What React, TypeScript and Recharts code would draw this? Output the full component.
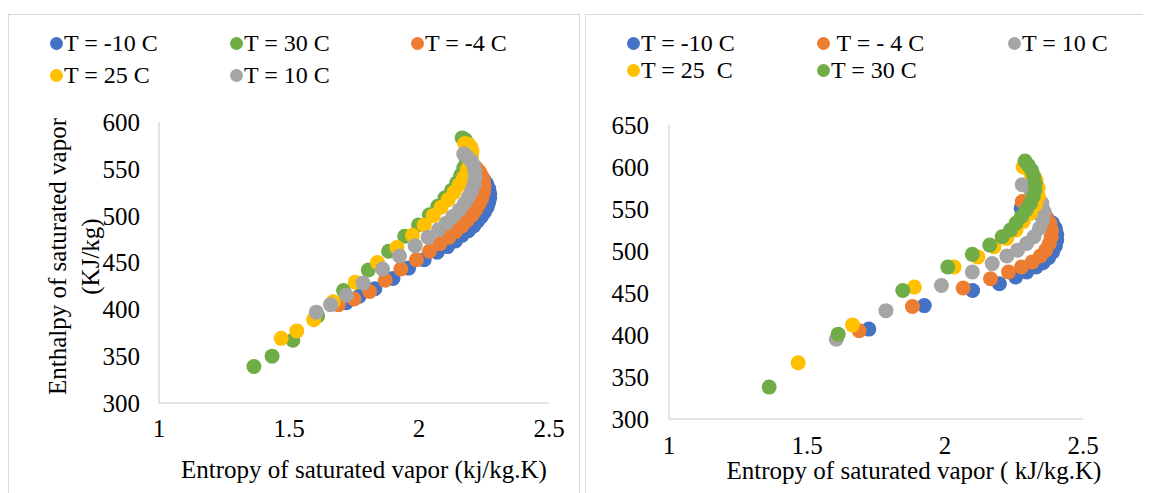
import { ScatterChart, Scatter, XAxis, YAxis } from "recharts";

const SERIF = "Liberation Serif, serif";
const AXIS_GREY = "#d9d9d9";
const INK = "#000000";

const BLUE = "#4472C4";
const ORANGE = "#ED7D31";
const GREY = "#A5A5A5";
const GOLD = "#FFC000";
const GREEN = "#70AD47";

const entropyTicks = [1, 1.5, 2, 2.5];
const leftEnthalpyTicks = [300, 350, 400, 450, 500, 550, 600];
const rightEnthalpyTicks = [300, 350, 400, 450, 500, 550, 600, 650];

// left panel: saturated vapour, kJ/kg.K vs kJ/kg
const leftM10S = [1.72, 1.77, 1.83, 1.9, 1.96, 2.02, 2.07, 2.11, 2.14, 2.165, 2.19, 2.21, 2.225, 2.24, 2.252, 2.262, 2.268, 2.272, 2.272, 2.268, 2.26, 2.25];
const leftM10H = [407, 414, 422, 433, 444, 453, 461, 467, 473, 479, 484, 489, 494, 499, 504, 509, 514, 519, 524, 529, 534, 538];

const left30S = [1.365, 1.435, 1.515, 1.61, 1.71, 1.805, 1.883, 1.945, 1.998, 2.04, 2.072, 2.1, 2.125, 2.145, 2.16, 2.172, 2.182, 2.188, 2.19, 2.186, 2.178, 2.166];
const left30H = [339, 350, 367, 393, 420, 442, 462, 478, 490, 501, 510, 519, 527, 535, 543, 551, 559, 566, 572, 577, 581, 583];

const leftM4S = [1.69, 1.75, 1.81, 1.87, 1.93, 1.99, 2.04, 2.08, 2.115, 2.14, 2.165, 2.185, 2.205, 2.22, 2.232, 2.242, 2.248, 2.25, 2.248, 2.242, 2.232, 2.22];
const leftM4H = [405, 411, 419, 431, 443, 453, 462, 470, 477, 483, 489, 495, 501, 507, 513, 519, 525, 531, 537, 542, 547, 551];

const left25S = [1.47, 1.53, 1.595, 1.67, 1.755, 1.84, 1.915, 1.975, 2.02, 2.055, 2.085, 2.112, 2.135, 2.155, 2.172, 2.186, 2.196, 2.202, 2.204, 2.2, 2.19, 2.176];
const left25H = [369, 377, 389, 408, 429, 450, 466, 479, 490, 500, 509, 517, 525, 533, 541, 549, 556, 563, 569, 573, 576, 577];

const left10S = [1.605, 1.66, 1.72, 1.785, 1.86, 1.925, 1.985, 2.035, 2.075, 2.105, 2.13, 2.155, 2.175, 2.19, 2.203, 2.212, 2.216, 2.215, 2.21, 2.2, 2.185, 2.172];
const left10H = [397, 405, 415, 428, 443, 457, 468, 477, 485, 492, 499, 506, 513, 520, 527, 534, 541, 548, 554, 559, 563, 566];

// right panel
const rightM10S = [1.724, 1.925, 2.1, 2.197, 2.256, 2.296, 2.33, 2.355, 2.375, 2.39, 2.4, 2.405, 2.405, 2.4, 2.39, 2.37, 2.345, 2.31, 2.276];
const rightM10H = [407, 435, 453, 461, 469, 475, 481, 486, 492, 499, 506, 513, 520, 527, 533, 539, 544, 548, 551];

const rightM4S = [1.689, 1.882, 2.066, 2.165, 2.23, 2.277, 2.316, 2.345, 2.365, 2.378, 2.385, 2.386, 2.38, 2.365, 2.345, 2.315, 2.28];
const rightM4H = [405, 434, 456, 467, 475, 481, 487, 494, 501, 509, 517, 525, 533, 541, 548, 554, 559];

const right10S = [1.606, 1.786, 1.987, 2.099, 2.171, 2.224, 2.263, 2.296, 2.322, 2.342, 2.355, 2.359, 2.351, 2.333, 2.31, 2.28];
const right10H = [395, 429, 459, 475, 485, 494, 501, 509, 517, 527, 537, 547, 557, 566, 573, 579];

const right25S = [1.468, 1.665, 1.889, 2.033, 2.119, 2.178, 2.224, 2.257, 2.283, 2.31, 2.328, 2.338, 2.338, 2.33, 2.31, 2.283];
const right25H = [367, 412, 457, 481, 493, 505, 515, 525, 535, 545, 555, 565, 575, 584, 593, 600];

const right30S = [1.363, 1.613, 1.847, 2.01, 2.099, 2.162, 2.207, 2.237, 2.257, 2.277, 2.294, 2.31, 2.32, 2.326, 2.327, 2.322, 2.314, 2.302, 2.29];
const right30H = [338, 401, 453, 481, 496, 507, 517, 525, 533, 541, 549, 557, 565, 573, 581, 589, 596, 602, 607];

type Point = { s: number; h: number };
type Series = { name: string; color: string; data: Point[] };

const zip = (s: number[], h: number[]): Point[] => s.map((v, i) => ({ s: v, h: h[i] }));

const leftSeries: Series[] = [
  { name: "T = -10 C", color: BLUE, data: zip(leftM10S, leftM10H) },
  { name: "T = 30 C", color: GREEN, data: zip(left30S, left30H) },
  { name: "T = -4 C", color: ORANGE, data: zip(leftM4S, leftM4H) },
  { name: "T = 25 C", color: GOLD, data: zip(left25S, left25H) },
  { name: "T = 10 C", color: GREY, data: zip(left10S, left10H) }
];

const rightSeries: Series[] = [
  { name: "T = -10 C", color: BLUE, data: zip(rightM10S, rightM10H) },
  { name: " T = - 4 C", color: ORANGE, data: zip(rightM4S, rightM4H) },
  { name: "T = 10 C", color: GREY, data: zip(right10S, right10H) },
  { name: "T = 25  C", color: GOLD, data: zip(right25S, right25H) },
  { name: "T = 30 C", color: GREEN, data: zip(right30S, right30H) }
];

const dot = (color: string) => (props: any) =>
  props.cx == null ? <g /> : <circle cx={props.cx} cy={props.cy} r={7.5} fill={color} />;

type LegendProps = {
  series: Series[];
  cols: number[];
  rows: number[];
};

function LegendGrid({ series, cols, rows }: LegendProps) {
  return (
    <>
      {series.map((item, i) => (
        <div
          key={item.name}
          style={{
            position: "absolute",
            left: cols[i % 3],
            top: rows[Math.floor(i / 3)] - 15,
            height: 30,
            display: "flex",
            alignItems: "center",
            fontFamily: SERIF,
            fontSize: 24,
            color: INK,
            whiteSpace: "pre"
          }}
        >
          <span
            style={{ width: 13, height: 13, borderRadius: "50%", background: item.color, marginRight: 1 }}
          />
          {item.name}
        </div>
      ))}
    </>
  );
}

const tickStyle = { fontSize: 25, fill: INK, fontFamily: SERIF };

export default function App() {
  return (
    <div style={{ position: "relative", width: 1143, height: 485, overflow: "hidden" }}>
      {/* left panel */}
      <div
        style={{
          position: "absolute",
          left: 0,
          top: 6,
          width: 570,
          height: 479,
          borderTop: `1px solid ${AXIS_GREY}`,
          borderLeft: `1px solid ${AXIS_GREY}`,
          borderRight: `1px solid ${AXIS_GREY}`
        }}
      >
        <ScatterChart width={569} height={478} margin={{ top: 107, right: 29, bottom: 10, left: 20 }}>
          <XAxis
            type="number"
            dataKey="s"
            domain={[1, 2.5]}
            ticks={entropyTicks}
            tickLine={false}
            tickSize={0}
            tickMargin={16}
            height={80}
            axisLine={{ stroke: AXIS_GREY, strokeWidth: 1.5 }}
            tick={tickStyle}
            label={{
              content: ({ viewBox }: any) => (
                <text
                  x={viewBox.x + viewBox.width / 2 + 10}
                  y={viewBox.y + 66}
                  textAnchor="middle"
                  dominantBaseline="central"
                  fontFamily={SERIF}
                  fontSize={25}
                  fill={INK}
                >
                  Entropy of saturated vapor (kj/kg.K)
                </text>
              )
            }}
          />
          <YAxis
            type="number"
            dataKey="h"
            domain={[300, 600]}
            ticks={leftEnthalpyTicks}
            tickLine={false}
            tickSize={0}
            tickMargin={19}
            width={130}
            axisLine={{ stroke: AXIS_GREY, strokeWidth: 1.5 }}
            tick={tickStyle}
            label={{
              content: ({ viewBox }: any) => {
                const cy = viewBox.y + viewBox.height / 2 - 6;
                return (
                  <g fontFamily={SERIF} fontSize={25} fill={INK}>
                    <text
                      x={viewBox.x + 28}
                      y={cy}
                      transform={`rotate(-90 ${viewBox.x + 28} ${cy})`}
                      textAnchor="middle"
                      dominantBaseline="central"
                    >
                      Enthalpy of saturated vapor
                    </text>
                    <text
                      x={viewBox.x + 61}
                      y={cy}
                      transform={`rotate(-90 ${viewBox.x + 61} ${cy})`}
                      textAnchor="middle"
                      dominantBaseline="central"
                    >
                      (KJ/kg)
                    </text>
                  </g>
                );
              }
            }}
          />
          {leftSeries.map((sr) => (
            <Scatter
              key={sr.name}
              name={sr.name}
              data={sr.data}
              fill={sr.color}
              shape={dot(sr.color)}
              isAnimationActive={false}
            />
          ))}
        </ScatterChart>
        <LegendGrid series={leftSeries} cols={[41, 221, 402]} rows={[28, 60]} />
      </div>

      {/* right panel */}
      <div
        style={{
          position: "absolute",
          left: 577,
          top: 6,
          width: 566,
          height: 479,
          borderTop: `1px solid ${AXIS_GREY}`,
          borderLeft: `1px solid ${AXIS_GREY}`
        }}
      >
        <ScatterChart width={565} height={478} margin={{ top: 110, right: 68, bottom: 10, left: 13 }}>
          <XAxis
            type="number"
            dataKey="s"
            domain={[1, 2.5]}
            ticks={entropyTicks}
            tickLine={false}
            tickSize={0}
            tickMargin={17}
            height={64}
            axisLine={{ stroke: AXIS_GREY, strokeWidth: 1.5 }}
            tick={tickStyle}
            label={{
              content: ({ viewBox }: any) => (
                <text
                  x={viewBox.x + viewBox.width / 2 + 38}
                  y={viewBox.y + 51}
                  textAnchor="middle"
                  dominantBaseline="central"
                  fontFamily={SERIF}
                  fontSize={25}
                  fill={INK}
                  style={{ whiteSpace: "pre" }}
                >
                  {"Entropy of saturated vapor ( kJ/kg.K)"}
                </text>
              )
            }}
          />
          <YAxis
            type="number"
            dataKey="h"
            domain={[300, 650]}
            ticks={rightEnthalpyTicks}
            tickLine={false}
            tickSize={0}
            tickMargin={20}
            width={70}
            axisLine={{ stroke: AXIS_GREY, strokeWidth: 1.5 }}
            tick={tickStyle}
          />
          {rightSeries.map((sr) => (
            <Scatter
              key={sr.name}
              name={sr.name}
              data={sr.data}
              fill={sr.color}
              shape={dot(sr.color)}
              isAnimationActive={false}
            />
          ))}
        </ScatterChart>
        <LegendGrid series={rightSeries} cols={[41, 231, 422]} rows={[28, 55]} />
      </div>
    </div>
  );
}
